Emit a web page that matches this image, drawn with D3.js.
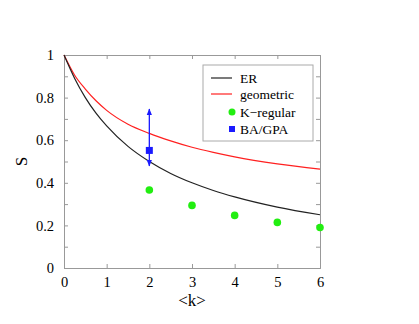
<!DOCTYPE html>
<html>
<head>
<meta charset="utf-8">
<script src="https://cdn.jsdelivr.net/npm/d3@7"></script>
<style>
  body { margin:0; background:#fff; }
  svg text { font-family: "Liberation Serif", "Times New Roman", Times, serif !important; fill:#000; }
</style>
</head>
<body>
<div id="chart"></div>
<script>
const width = 419, height = 324;

// values
const kCurve = [0, 0.25, 0.5, 0.75, 1, 1.5, 2, 2.5, 3, 3.5, 4, 5, 6];
const erS    = [1, 0.89, 0.80, 0.727, 0.667, 0.571, 0.50, 0.444, 0.40, 0.364, 0.334, 0.286, 0.25];
const geoS   = [1, 0.905, 0.84, 0.785, 0.74, 0.675, 0.632, 0.597, 0.567, 0.543, 0.522, 0.489, 0.464];
const kReg   = [2, 3, 4, 5, 6];
const kRegS  = [0.366, 0.294, 0.247, 0.214, 0.19];
const baK    = [2];
const baS    = [0.552];
const baLo   = [0.479];
const baHi   = [0.746];
const xTicks = [0, 1, 2, 3, 4, 5, 6];
const yTicks = [0, 0.2, 0.4, 0.6, 0.8, 1];

const m = {left:64, right:99, top:55, bottom:56};
const iw = width - m.left - m.right, ih = height - m.top - m.bottom;
const serif = "'Liberation Serif', 'Times New Roman', Times, serif";

const svg = d3.select("#chart").append("svg")
  .attr("width", width).attr("height", height)
  .attr("font-family", serif);

const x = d3.scaleLinear().domain([0,6]).range([m.left, m.left+iw]);
const y = d3.scaleLinear().domain([0,1]).range([m.top+ih, m.top]);

const frameCol = "#999";
const tickSize = 4;

// axes with inward ticks
const axB = svg.append("g").attr("transform",`translate(0,${m.top+ih})`)
  .call(d3.axisBottom(x).tickValues(xTicks).tickSize(-tickSize).tickPadding(9).tickFormat(d3.format("d")));
const axT = svg.append("g").attr("transform",`translate(0,${m.top})`)
  .call(d3.axisTop(x).tickValues(xTicks).tickSize(-tickSize).tickFormat(""));
const axL = svg.append("g").attr("transform",`translate(${m.left},0)`)
  .call(d3.axisLeft(y).tickValues(d3.range(0,1.0001,0.1)).tickSize(-tickSize).tickPadding(10)
    .tickFormat(d => yTicks.some(t => Math.abs(t-d)<1e-6) ? d3.format("")(+d.toFixed(1)) : ""));
const axR = svg.append("g").attr("transform",`translate(${m.left+iw},0)`)
  .call(d3.axisRight(y).tickValues(d3.range(0,1.0001,0.1)).tickSize(-tickSize).tickFormat(""));

[axB, axT, axL, axR].forEach(g => {
  g.attr("font-family", serif);
  g.selectAll("path.domain").attr("stroke", frameCol);
  g.selectAll(".tick line").attr("stroke", frameCol);
  g.selectAll(".tick text").attr("font-size", 14.5).style("font-family", serif);
});

// axis titles
svg.append("text").attr("x", x(3)).attr("y", 306).attr("text-anchor","middle")
  .attr("font-size", 17).text("<k>");
svg.append("text").attr("transform", `translate(27,${y(0.5)}) rotate(-90)`)
  .attr("text-anchor","middle").attr("font-size", 17).text("S");

// curves
const line = d3.line().x(d => x(d[0])).y(d => y(d[1])).curve(d3.curveMonotoneX);
svg.append("path").datum(kCurve.map((k,i)=>[k, geoS[i]]))
  .attr("d", line).attr("fill","none").attr("stroke","#ff2020").attr("stroke-width",1.2);
svg.append("path").datum(kCurve.map((k,i)=>[k, erS[i]]))
  .attr("d", line).attr("fill","none").attr("stroke","#222").attr("stroke-width",1.2);

// K-regular points
svg.selectAll("circle.kreg").data(kReg.map((k,i)=>[k,kRegS[i]])).join("circle")
  .attr("class","kreg").attr("cx", d=>x(d[0])).attr("cy", d=>y(d[1]))
  .attr("r", 3.8).attr("fill", "#22ee11");

// BA/GPA with arrow error bar
const defs = svg.append("defs");
defs.append("marker").attr("id","arr").attr("viewBox","0 0 10 10")
  .attr("refX",9).attr("refY",5).attr("markerWidth",5).attr("markerHeight",5)
  .attr("orient","auto-start-reverse")
  .append("path").attr("d","M0,1L10,5L0,9Z").attr("fill","#1a1aff");

baK.forEach((k,i) => {
  svg.append("line").attr("x1", x(k)).attr("x2", x(k))
    .attr("y1", y(baLo[i])).attr("y2", y(baHi[i]))
    .attr("stroke","#1a1aff").attr("stroke-width",1.3)
    .attr("marker-start","url(#arr)").attr("marker-end","url(#arr)");
  svg.append("rect").attr("x", x(k)-3.5).attr("y", y(baS[i])-3.5)
    .attr("width",7).attr("height",7).attr("fill","#1a1aff");
});

// legend
const lg = svg.append("g");
lg.append("rect").attr("x",203).attr("y",65).attr("width",110).attr("height",76)
  .attr("fill","#fff").attr("stroke","#aaa").attr("stroke-width",1);
const items = [
  {name:"ER", type:"line", color:"#222", yy:78},
  {name:"geometric", type:"line", color:"#ff2020", yy:94},
  {name:"K\u2212regular", type:"dot", color:"#22ee11", yy:112},
  {name:"BA/GPA", type:"sq", color:"#1a1aff", yy:129}
];
items.forEach(it => {
  if (it.type==="line") {
    lg.append("line").attr("x1",211).attr("x2",232).attr("y1",it.yy).attr("y2",it.yy)
      .attr("stroke",it.color).attr("stroke-width",1.2);
  } else if (it.type==="dot") {
    lg.append("circle").attr("cx",232).attr("cy",it.yy).attr("r",3.5).attr("fill",it.color);
  } else {
    lg.append("rect").attr("x",229).attr("y",it.yy-3).attr("width",6).attr("height",6).attr("fill",it.color);
  }
  lg.append("text").attr("x",240).attr("y",it.yy+4.5).attr("font-size",13.5).text(it.name);
});
</script>
</body>
</html>
